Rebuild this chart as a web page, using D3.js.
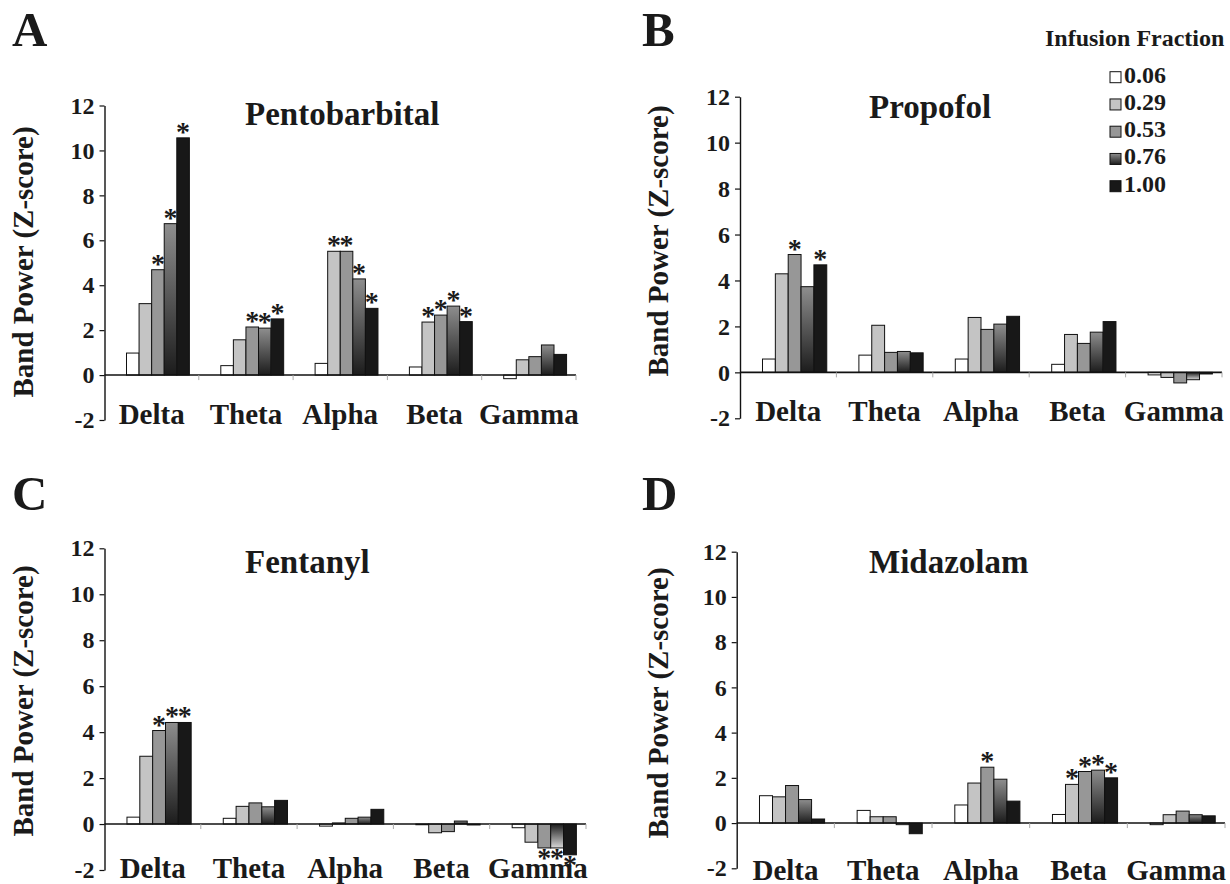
<!DOCTYPE html>
<html>
<head>
<meta charset="utf-8">
<script src="https://cdn.jsdelivr.net/npm/d3@7"></script>
<style>
  html, body { margin: 0; padding: 0; background: #fff; }
  svg { display: block; }
  text { font-family: "Liberation Serif", "Times New Roman", serif; font-weight: bold; fill: #1a1a1a; }
</style>
</head>
<body>
<svg id="chart" width="1230" height="884"></svg>
<script>
// ---------- data ----------
const bands = ["Delta", "Theta", "Alpha", "Beta", "Gamma"];
const fractions = ["0.06", "0.29", "0.53", "0.76", "1.00"];
const yTicks = [-2, 0, 2, 4, 6, 8, 10, 12];

const pentobarbital = [
  [0.98, 3.18, 4.69, 6.74, 10.56],
  [0.42, 1.57, 2.14, 2.09, 2.50],
  [0.52, 5.51, 5.51, 4.28, 2.97],
  [0.36, 2.36, 2.67, 3.07, 2.38],
  [-0.16, 0.68, 0.82, 1.34, 0.92]
];
const propofol = [
  [0.58, 4.29, 5.13, 3.73, 4.68],
  [0.75, 2.05, 0.87, 0.91, 0.85],
  [0.58, 2.39, 1.87, 2.10, 2.44],
  [0.35, 1.65, 1.26, 1.75, 2.21],
  [-0.11, -0.22, -0.46, -0.32, -0.07]
];
const fentanyl = [
  [0.30, 2.95, 4.07, 4.42, 4.42],
  [0.25, 0.77, 0.92, 0.75, 1.03],
  [-0.09, 0.05, 0.25, 0.30, 0.64],
  [-0.03, -0.38, -0.33, 0.13, -0.04],
  [-0.16, -0.79, -1.04, -1.04, -1.34]
];
const midazolam = [
  [1.21, 1.16, 1.66, 1.04, 0.18],
  [0.56, 0.28, 0.28, -0.07, -0.47],
  [0.80, 1.77, 2.47, 1.94, 0.97],
  [0.38, 1.71, 2.28, 2.34, 2.00],
  [-0.07, 0.37, 0.53, 0.37, 0.32]
];
// significance markers (1 = asterisk)
const sigPentobarbital = [[0,0,1,1,1],[0,0,1,1,1],[0,1,1,1,1],[0,1,1,1,1],[0,0,0,0,0]];
const sigPropofol      = [[0,0,1,0,1],[0,0,0,0,0],[0,0,0,0,0],[0,0,0,0,0],[0,0,0,0,0]];
const sigFentanyl      = [[0,0,1,1,1],[0,0,0,0,0],[0,0,0,0,0],[0,0,0,0,0],[0,0,1,1,1]];
const sigMidazolam     = [[0,0,0,0,0],[0,0,0,0,0],[0,0,1,0,0],[0,1,1,1,1],[0,0,0,0,0]];

const drugs = ["Pentobarbital", "Propofol", "Fentanyl", "Midazolam"];
const letters = ["A", "B", "C", "D"];
const legendTitle = "Infusion Fraction";
const yLabel = "Band Power (Z-score)";

// ---------- layout ----------
const panels = [
  { letter: letters[0], title: drugs[0], values: pentobarbital, sig: sigPentobarbital,
    x0: 104.5, x1: 576, yTop: 105.5, yBot: 420, titleX: 245, titleY: 125, letterX: 12, letterY: 46,
    ylabX: 33, ylabY: 262, catDy: 49 },
  { letter: letters[1], title: drugs[1], values: propofol, sig: sigPropofol,
    x0: 740, x1: 1222, yTop: 96.7, yBot: 418.3, titleX: 869, titleY: 118, letterX: 642, letterY: 46,
    ylabX: 668, ylabY: 241, catDy: 49 },
  { letter: letters[2], title: drugs[2], values: fentanyl, sig: sigFentanyl,
    x0: 104.5, x1: 586, yTop: 548.3, yBot: 870, titleX: 245, titleY: 573, letterX: 12, letterY: 510,
    ylabX: 33, ylabY: 701, catDy: 54 },
  { letter: letters[3], title: drugs[3], values: midazolam, sig: sigMidazolam,
    x0: 736.7, x1: 1225, yTop: 551.7, yBot: 868.3, titleX: 869, titleY: 573, letterX: 642, letterY: 510,
    ylabX: 668, ylabY: 703, catDy: 57 }
];

const svg = d3.select("#chart");
const defs = svg.append("defs");
const gPos = defs.append("linearGradient").attr("id", "gradPos").attr("x1", 0).attr("y1", 0).attr("x2", 0).attr("y2", 1);
gPos.append("stop").attr("offset", "0%").attr("stop-color", "#8e8e8e");
gPos.append("stop").attr("offset", "100%").attr("stop-color", "#1c1c1c");
const gNeg = defs.append("linearGradient").attr("id", "gradNeg").attr("x1", 0).attr("y1", 0).attr("x2", 0).attr("y2", 1);
gNeg.append("stop").attr("offset", "0%").attr("stop-color", "#1c1c1c");
gNeg.append("stop").attr("offset", "100%").attr("stop-color", "#d8d8d8");

const fills = ["#ffffff", "#c4c4c4", "#979797", null, "#181818"];
function fillFor(i, v) {
  if (i === 3) return v >= 0 ? "url(#gradPos)" : "url(#gradNeg)";
  return fills[i];
}

panels.forEach(p => {
  const g = svg.append("g");
  const y = d3.scaleLinear().domain([-2, 12]).range([p.yBot, p.yTop]);
  const xb = d3.scaleBand().domain(bands).range([p.x0, p.x1]).paddingInner(0).paddingOuter(0);
  const xs = d3.scaleBand().domain(["", ...fractions]).range([0, xb.bandwidth()]).paddingInner(0).paddingOuter(0.75);
  const y0 = y(0);

  // panel letter
  g.append("text").attr("x", p.letterX).attr("y", p.letterY)
    .style("font-size", "49px").text(p.letter);

  // title
  g.append("text").attr("x", p.titleX).attr("y", p.titleY)
    .style("font-size", "33px").text(p.title);

  // y label
  g.append("text")
    .attr("transform", `translate(${p.ylabX},${p.ylabY}) rotate(-90)`)
    .attr("text-anchor", "middle")
    .style("font-size", "29px").text(yLabel);

  // y axis
  const ax = g.append("g").attr("transform", `translate(${p.x0},0)`)
    .call(d3.axisLeft(y).tickValues(yTicks).tickSize(5).tickSizeOuter(0).tickPadding(5).tickFormat(d => String(d)));
  ax.select(".domain").attr("stroke", "#111").attr("stroke-width", 1.4);
  ax.selectAll(".tick line").attr("stroke", "#111").attr("stroke-width", 1.2);
  ax.selectAll(".tick text").style("font-family", "'Liberation Serif', 'Times New Roman', serif")
    .style("font-weight", "bold").style("font-size", "24px").attr("fill", "#1a1a1a");

  // bars
  p.values.forEach((row, ci) => {
    row.forEach((v, si) => {
      const bx = xb(bands[ci]) + xs(fractions[si]);
      const top = Math.min(y(v), y0), h = Math.abs(y(v) - y0);
      g.append("rect").attr("x", bx).attr("y", top).attr("width", xs.bandwidth()).attr("height", h)
        .attr("fill", fillFor(si, v)).attr("stroke", "#111").attr("stroke-width", 1);
      if (p.sig[ci][si]) {
        const sy = v >= 0 ? y(v) + 3 : y(v) + 19;
        g.append("text").attr("x", bx + xs.bandwidth() / 2).attr("y", sy)
          .attr("text-anchor", "middle").style("font-size", "28px").text("*");
      }
    });
  });

  // x axis at zero
  g.append("line").attr("x1", p.x0).attr("x2", p.x1).attr("y1", y0).attr("y2", y0)
    .attr("stroke", "#111").attr("stroke-width", 1.6);
  bands.forEach(b => {
    const tx = xb(b) + xb.bandwidth();
    g.append("line").attr("x1", tx).attr("x2", tx).attr("y1", y0).attr("y2", y0 + 5)
      .attr("stroke", "#aaa").attr("stroke-width", 1);
  });

  // category labels
  bands.forEach(b => {
    g.append("text").attr("x", xb(b) + xb.bandwidth() / 2).attr("y", y0 + p.catDy)
      .attr("text-anchor", "middle").style("font-size", "29px").text(b);
  });
});

// legend
const lg = svg.append("g");
lg.append("text").attr("x", 1045).attr("y", 46).style("font-size", "24px").text(legendTitle);
const legY = d3.scalePoint().domain(fractions).range([82.7, 191.7]);
fractions.forEach((f, i) => {
  const by = legY(f);
  lg.append("rect").attr("x", 1110).attr("y", by - 11).attr("width", 11).attr("height", 11)
    .attr("fill", i === 3 ? "url(#gradPos)" : fills[i]).attr("stroke", "#111").attr("stroke-width", 1);
  lg.append("text").attr("x", 1124).attr("y", by).style("font-size", "24px").text(f);
});
</script>
</body>
</html>
